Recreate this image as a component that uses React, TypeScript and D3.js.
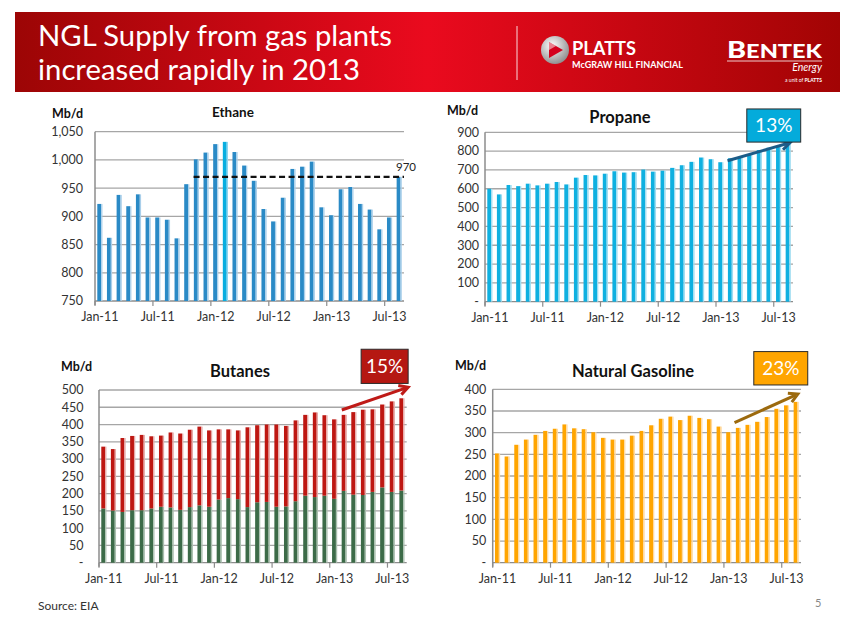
import React from 'react';
import * as d3 from 'd3';

const months = [
  'Jan-11','Feb-11','Mar-11','Apr-11','May-11','Jun-11','Jul-11','Aug-11','Sep-11','Oct-11','Nov-11','Dec-11',
  'Jan-12','Feb-12','Mar-12','Apr-12','May-12','Jun-12','Jul-12','Aug-12','Sep-12','Oct-12','Nov-12','Dec-12',
  'Jan-13','Feb-13','Mar-13','Apr-13','May-13','Jun-13','Jul-13','Aug-13',
];
const tickMonths = ['Jan-11', 'Jul-11', 'Jan-12', 'Jul-12', 'Jan-13', 'Jul-13'];

const ethane = [922, 862, 938, 918, 939, 898, 898, 894, 861, 957, 1001, 1013, 1028, 1032, 1014, 990, 963, 913, 891, 933, 984, 988, 997, 916, 902, 948, 952, 922, 912, 877, 898, 970];
const ethaneHighlight = 'Feb-12';
const ethaneRef = 970;
const ethaneRefStart = 'Nov-11';

const propane = [600, 570, 620, 614, 627, 618, 627, 636, 623, 659, 673, 671, 680, 693, 686, 688, 702, 691, 696, 711, 725, 743, 766, 757, 741, 762, 768, 780, 806, 818, 826, 845];

const butanesLower = [157, 151, 147, 152, 152, 157, 162, 160, 153, 161, 166, 162, 183, 187, 184, 161, 175, 176, 162, 163, 178, 194, 190, 194, 185, 208, 197, 196, 205, 218, 205, 209];
const butanesUpper = [179, 178, 214, 215, 218, 209, 206, 217, 221, 224, 228, 221, 203, 199, 199, 231, 223, 224, 238, 233, 234, 234, 245, 233, 230, 220, 239, 247, 239, 240, 262, 267];

const gasoline = [252, 245, 272, 284, 295, 304, 309, 319, 310, 308, 301, 288, 284, 284, 293, 304, 317, 332, 337, 329, 339, 334, 331, 314, 301, 311, 318, 325, 336, 355, 363, 371];

// annotations: [startIndex, startValue, endIndex, endValue], box: [i0, i1, vTop, vBottom], label
const propaneNote = { arrow: [25.2, 749, 31.7, 845], box: [27.2, 32.8, 1024, 848], label: '13%' };
const butanesNote = { arrow: [25.25, 442, 32.15, 508], box: [27.26, 32.15, 618, 519], label: '15%' };
const gasolineNote = { arrow: [25.1, 323, 31.67, 389], box: [27.1, 32.7, 487, 410], label: '23%' };

const FONT = 'Lato, "Open Sans", sans-serif';

type Layout = {
  left: number; right: number; top: number; bottom: number;
  domain: [number, number]; step: number; fmt: (v: number) => string;
  labelGap: number; title: string; titleSize: number; titleY: number; titleX: number;
  unitX: number; unitY: number;
};

function Frame({ L, x, y }: { L: Layout; x: d3.ScaleBand<string>; y: d3.ScaleLinear<number, number> }) {
  const ticks = d3.range(L.domain[0], L.domain[1] + 0.001, L.step);
  return (
    <g fontFamily={FONT}>
      {ticks.map((t) => (
        <g key={t}>
          {t !== L.domain[0] && (
            <line x1={L.left} x2={L.right} y1={y(t)} y2={y(t)} stroke="#a6a6a6" strokeWidth={1.3} />
          )}
          <text x={L.left - L.labelGap} y={y(t)} dy="0.35em" textAnchor="end" fontSize={12.5} fill="#333">
            {L.fmt(t)}
          </text>
        </g>
      ))}
      <line x1={L.left} x2={L.right} y1={L.bottom} y2={L.bottom} stroke="#8c8c8c" strokeWidth={1.3} />
      <line x1={L.left} x2={L.left} y1={L.top} y2={L.bottom + 4} stroke="#8c8c8c" strokeWidth={1.5} />
      {tickMonths.map((m) => (
        <g key={m}>
          <line x1={x(m)!} x2={x(m)!} y1={L.bottom} y2={L.bottom + 5} stroke="#8c8c8c" strokeWidth={1.2} />
          <text x={x(m)! + x.bandwidth() / 2} y={L.bottom + 20} textAnchor="middle" fontSize={12.5} fill="#333">
            {m}
          </text>
        </g>
      ))}
      <text x={L.titleX} y={L.titleY} textAnchor="middle" fontSize={L.titleSize} fontWeight="bold" fill="#111">
        {L.title}
      </text>
      <text x={L.unitX} y={L.unitY} fontSize={12.5} fontWeight="bold" fill="#111">Mb/d</text>
    </g>
  );
}

function scales(L: Layout) {
  const x = d3.scaleBand<string>().domain(months).range([L.left, L.right]).paddingInner(0).paddingOuter(0);
  const y = d3.scaleLinear().domain(L.domain).range([L.bottom, L.top]);
  const xi = d3.scaleLinear().domain([0, months.length]).range([L.left, L.right]);
  return { x, y, xi };
}

function Bar({ x, w, y0, y1, color, light }: { x: number; w: number; y0: number; y1: number; color: string; light: string }) {
  return (
    <g>
      <rect x={x - w / 2 - 0.6} y={y1} width={w} height={Math.max(0, y0 - y1)} fill={color} />
      <rect x={x + w / 2 - 0.6} y={y1} width={1.3} height={Math.max(0, y0 - y1)} fill={light} />
    </g>
  );
}

function Note({ note, xi, y, fill, arrowColor }: any) {
  const [i0, v0, i1, v1] = note.arrow;
  const ax0 = xi(i0), ay0 = y(v0), ax1 = xi(i1), ay1 = y(v1);
  const ang = Math.atan2(ay1 - ay0, ax1 - ax0);
  const hl = 10;
  const h1 = [ax1 - hl * Math.cos(ang - 0.5), ay1 - hl * Math.sin(ang - 0.5)];
  const h2 = [ax1 - hl * Math.cos(ang + 0.5), ay1 - hl * Math.sin(ang + 0.5)];
  const [b0, b1, bt, bb] = note.box;
  const bx0 = xi(b0), bx1 = xi(b1), by0 = y(bt), by1 = y(bb);
  return (
    <g>
      <line x1={ax0} y1={ay0} x2={ax1 - 2 * Math.cos(ang)} y2={ay1 - 2 * Math.sin(ang)} stroke={arrowColor} strokeWidth={3} />
      <path d={`M${h1[0]},${h1[1]} L${ax1},${ay1} L${h2[0]},${h2[1]}`} fill="none" stroke={arrowColor} strokeWidth={3} strokeLinejoin="miter" />
      <rect x={bx0} y={by0} width={bx1 - bx0} height={by1 - by0} fill={fill} stroke="#2a2a2a" strokeWidth={1} />
      <text x={(bx0 + bx1) / 2} y={(by0 + by1) / 2} dy="0.36em" textAnchor="middle" fontFamily={FONT} fontSize={19} fill="#fff">
        {note.label}
      </text>
    </g>
  );
}

const fmtComma = d3.format(',');
const fmtDash = (v: number) => (v === 0 ? '-' : String(v));

const ethaneL: Layout = {
  left: 95, right: 404, top: 131.7, bottom: 301, domain: [750, 1050], step: 50, fmt: fmtComma,
  labelGap: 12, title: 'Ethane', titleSize: 13.5, titleY: 117, titleX: 233, unitX: 52, unitY: 118,
};
const propaneL: Layout = {
  left: 485, right: 793, top: 132.3, bottom: 301.7, domain: [0, 900], step: 100, fmt: fmtDash,
  labelGap: 6, title: 'Propane', titleSize: 16.5, titleY: 122.5, titleX: 620, unitX: 447, unitY: 115,
};
const butanesL: Layout = {
  left: 99, right: 406.7, top: 390, bottom: 562.7, domain: [0, 500], step: 50, fmt: fmtDash,
  labelGap: 15.5, title: 'Butanes', titleSize: 16.5, titleY: 376.5, titleX: 240, unitX: 61, unitY: 371,
};
const gasolineL: Layout = {
  left: 492.7, right: 801, top: 389.3, bottom: 562.7, domain: [0, 400], step: 50, fmt: fmtDash,
  labelGap: 6.5, title: 'Natural Gasoline', titleSize: 16.5, titleY: 376.5, titleX: 633, unitX: 455, unitY: 370,
};

function EthanePanel() {
  const L = ethaneL;
  const { x, y } = scales(L);
  const bw = x.bandwidth();
  const refX0 = x(ethaneRefStart)! + 2;
  return (
    <g>
      <Frame L={L} x={x} y={y} />
      {ethane.map((v, i) => {
        const m = months[i];
        const hi = m === ethaneHighlight;
        return (
          <Bar key={m} x={x(m)! + bw / 2} w={bw * 0.4} y0={y(L.domain[0])} y1={y(v)}
            color={hi ? '#08aee0' : '#2a8ac6'} light={hi ? '#8fd6ef' : '#a9cfea'} />
        );
      })}
      <line x1={refX0} x2={L.right} y1={y(ethaneRef)} y2={y(ethaneRef)} stroke="#111" strokeWidth={2.2} strokeDasharray="6,3.5" />
      <text x={L.right - 8} y={y(ethaneRef) - 5.5} fontFamily={FONT} fontSize={11.5} fill="#222">{ethaneRef}</text>
    </g>
  );
}

function PropanePanel() {
  const L = propaneL;
  const { x, y, xi } = scales(L);
  const bw = x.bandwidth();
  return (
    <g>
      <Frame L={L} x={x} y={y} />
      {propane.map((v, i) => (
        <Bar key={i} x={x(months[i])! + bw / 2} w={bw * 0.4} y0={y(0)} y1={y(v)} color="#0fb0e0" light="#9edcf1" />
      ))}
      <Note note={propaneNote} xi={xi} y={y} fill="#04abdb" arrowColor="#1c5c88" />
    </g>
  );
}

function ButanesPanel() {
  const L = butanesL;
  const { x, y, xi } = scales(L);
  const bw = x.bandwidth();
  const rows = months.map((m, i) => ({ m, lower: butanesLower[i], upper: butanesUpper[i] }));
  const stack = d3.stack<any>().keys(['lower', 'upper'])(rows);
  const colors: Record<string, [string, string]> = { lower: ['#3c6b48', '#a9bfae'], upper: ['#be1712', '#e6a7a5'] };
  return (
    <g>
      <Frame L={L} x={x} y={y} />
      {stack.map((s) => (
        <g key={s.key}>
          {s.map((d, i) => (
            <Bar key={i} x={x(months[i])! + bw / 2} w={bw * 0.4} y0={y(d[0])} y1={y(d[1])}
              color={colors[s.key][0]} light={colors[s.key][1]} />
          ))}
        </g>
      ))}
      <Note note={butanesNote} xi={xi} y={y} fill="#b51812" arrowColor="#bf1a17" />
    </g>
  );
}

function GasolinePanel() {
  const L = gasolineL;
  const { x, y, xi } = scales(L);
  const bw = x.bandwidth();
  return (
    <g>
      <Frame L={L} x={x} y={y} />
      {gasoline.map((v, i) => (
        <Bar key={i} x={x(months[i])! + bw / 2} w={bw * 0.4} y0={y(0)} y1={y(v)} color="#ffa500" light="#ffd9a0" />
      ))}
      <Note note={gasolineNote} xi={xi} y={y} fill="#ffa500" arrowColor="#9c6a0e" />
    </g>
  );
}

function Header() {
  return (
    <g>
      <defs>
        <linearGradient id="hdr" x1="0" x2="1" y1="0" y2="0">
          <stop offset="0" stopColor="#9c0505" />
          <stop offset="0.5" stopColor="#ea0a1e" />
          <stop offset="1" stopColor="#a20404" />
        </linearGradient>
        <radialGradient id="ball" cx="0.4" cy="0.35" r="0.7">
          <stop offset="0" stopColor="#ffffff" />
          <stop offset="1" stopColor="#8a8a8a" />
        </radialGradient>
      </defs>
      <rect x={15} y={12} width={825} height={80} fill="url(#hdr)" />
      <text x={38} y={46} fontFamily={FONT} fontSize={29} fill="#fff" textLength={354} lengthAdjust="spacingAndGlyphs">
        NGL Supply from gas plants
      </text>
      <text x={38} y={80} fontFamily={FONT} fontSize={29} fill="#fff" textLength={322} lengthAdjust="spacingAndGlyphs">
        increased rapidly in 2013
      </text>
      <line x1={517} x2={517} y1={26} y2={80} stroke="#fff" strokeOpacity={0.85} strokeWidth={1} />
      <circle cx={555} cy={50} r={14} fill="url(#ball)" />
      <path d="M549,42 L563,50 L549,58 Z" fill="#d4001c" />
      <path d="M549,42 L556,46 L549,50 Z" fill="#fff" fillOpacity={0.5} />
      <text x={572} y={55} fontFamily={FONT} fontWeight="bold" fontSize={18} fill="#fff" textLength={64} lengthAdjust="spacingAndGlyphs">PLATTS</text>
      <text x={572} y={68} fontFamily={FONT} fontWeight="bold" fontSize={8.5} fill="#fff" textLength={111} lengthAdjust="spacingAndGlyphs">McGRAW HILL FINANCIAL</text>
      <text x={727} y={58} fontFamily={FONT} fontWeight="900" fontSize={18} fill="#fff" textLength={95} lengthAdjust="spacingAndGlyphs">
        <tspan fontSize={22}>B</tspan>ENTEK
      </text>
      <line x1={727} x2={822} y1={61} y2={61} stroke="#fff" strokeWidth={0.8} />
      <text x={822} y={71} textAnchor="end" fontFamily={FONT} fontStyle="italic" fontSize={10.5} fill="#fff">Energy</text>
      <text x={822} y={82} textAnchor="end" fontFamily={FONT} fontSize={5} fill="#fff">a unit of <tspan fontWeight="bold">PLATTS</tspan></text>
    </g>
  );
}

export default function App() {
  return (
    <svg width={850} height={618} viewBox="0 0 850 618" style={{ position: 'absolute', left: 0, top: 0, background: '#fff' }}>
      <rect x={0} y={0} width={850} height={618} fill="#fff" />
      <Header />
      <EthanePanel />
      <PropanePanel />
      <ButanesPanel />
      <GasolinePanel />
      <text x={38} y={610} fontFamily={FONT} fontSize={12} fill="#333">Source: EIA</text>
      <text x={815} y={607} fontFamily={FONT} fontSize={11} fill="#888">5</text>
    </svg>
  );
}
